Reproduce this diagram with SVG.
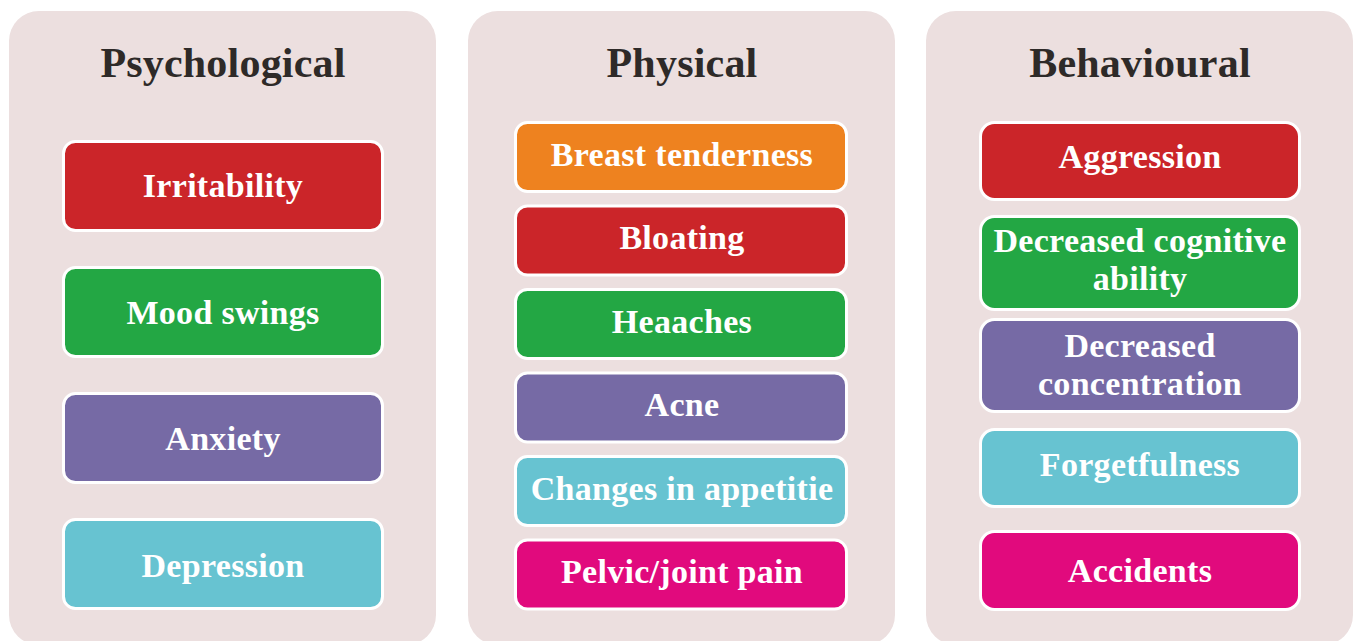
<svg xmlns="http://www.w3.org/2000/svg" width="1356" height="641" viewBox="0 0 1356 641">
<style>
.panel{fill:#ECDFDF}
.title{font-family:"Liberation Serif",serif;font-weight:bold;font-size:42px;fill:#2E2A28;text-anchor:middle;letter-spacing:0.2px}
.box{stroke:#FFFFFF;stroke-width:3}
.lbl{font-family:"Liberation Serif",serif;font-weight:bold;font-size:34px;fill:#FFFFFF;text-anchor:middle;letter-spacing:0.3px}
.red{fill:#CB2529}.orange{fill:#EE821F}.green{fill:#23A744}.purple{fill:#766AA5}.cyan{fill:#67C3D1}.magenta{fill:#E10A7D}
</style>
<rect width="1356" height="641" fill="#FFFFFF"/>
<g id="panel-psychological">
<rect class="panel" x="9" y="11" width="427" height="634" rx="30"/>
<text class="title" x="223" y="77">Psychological</text>
</g>
<g id="panel-physical">
<rect class="panel" x="468" y="11" width="427" height="634" rx="30"/>
<text class="title" x="682" y="77">Physical</text>
</g>
<g id="panel-behavioural">
<rect class="panel" x="926" y="11" width="427" height="634" rx="30"/>
<text class="title" x="1140" y="77">Behavioural</text>
</g>
<g id="connectors"/>
<g id="irritability"><rect class="box red" x="63.5" y="141.5" width="319" height="89" rx="12"/><text class="lbl" x="223" y="197">Irritability</text></g>
<g id="mood-swings"><rect class="box green" x="63.5" y="267.5" width="319" height="89" rx="12"/><text class="lbl" x="223" y="324">Mood swings</text></g>
<g id="anxiety"><rect class="box purple" x="63.5" y="393.5" width="319" height="89" rx="12"/><text class="lbl" x="223" y="450">Anxiety</text></g>
<g id="depression"><rect class="box cyan" x="63.5" y="519.5" width="319" height="89" rx="12"/><text class="lbl" x="223" y="577">Depression</text></g>

<g id="breast-tenderness"><rect class="box orange" x="515.5" y="122.5" width="331" height="69" rx="12"/><text class="lbl" x="682" y="166">Breast tenderness</text></g>
<g id="bloating"><rect class="box red" x="515.5" y="206" width="331" height="69" rx="12"/><text class="lbl" x="682" y="249">Bloating</text></g>
<g id="heaaches"><rect class="box green" x="515.5" y="289.5" width="331" height="69" rx="12"/><text class="lbl" x="682" y="333">Heaaches</text></g>
<g id="acne"><rect class="box purple" x="515.5" y="373" width="331" height="69" rx="12"/><text class="lbl" x="682" y="416">Acne</text></g>
<g id="appetite"><rect class="box cyan" x="515.5" y="456.5" width="331" height="69" rx="12"/><text class="lbl" x="682" y="500">Changes in appetitie</text></g>
<g id="pelvic"><rect class="box magenta" x="515.5" y="540" width="331" height="69" rx="12"/><text class="lbl" x="682" y="583">Pelvic/joint pain</text></g>

<g id="aggression"><rect class="box red" x="980.5" y="122.5" width="319" height="77" rx="14"/><text class="lbl" x="1140" y="168">Aggression</text></g>
<g id="cognitive"><rect class="box green" x="980.5" y="216.5" width="319" height="93" rx="14"/><text class="lbl" x="1140" y="252">Decreased cognitive</text><text class="lbl" x="1140" y="290">ability</text></g>
<g id="concentration"><rect class="box purple" x="980.5" y="319.5" width="319" height="92" rx="14"/><text class="lbl" x="1140" y="357">Decreased</text><text class="lbl" x="1140" y="395">concentration</text></g>
<g id="forgetfulness"><rect class="box cyan" x="980.5" y="429.5" width="319" height="77" rx="14"/><text class="lbl" x="1140" y="476">Forgetfulness</text></g>
<g id="accidents"><rect class="box magenta" x="980.5" y="531.5" width="319" height="78" rx="14"/><text class="lbl" x="1140" y="582">Accidents</text></g>
</svg>
